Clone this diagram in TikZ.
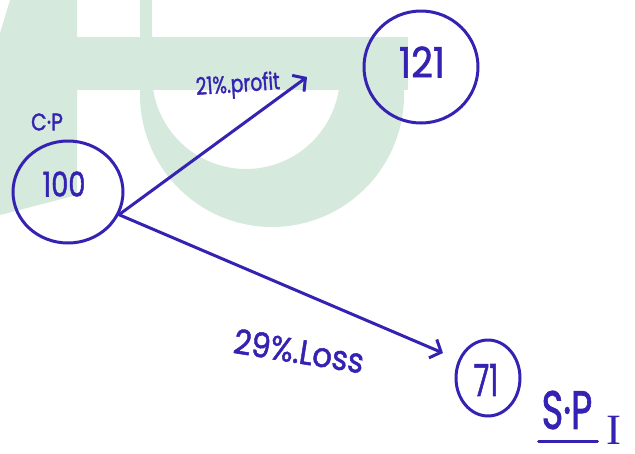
\documentclass[tikz,border=0pt]{standalone}
\usepackage{fontspec}
\setmainfont{Poppins}[FakeBold=1.6]
\newfontfamily\serifI{Liberation Serif}
\usetikzlibrary{shapes.geometric,arrows.meta}
\definecolor{ink}{RGB}{52,34,178}
\definecolor{mint}{RGB}{214,233,221}
\begin{document}
\begin{tikzpicture}[x=1pt,y=-1pt,
  ring/.style={draw=ink, line width=3pt, ellipse, inner sep=0pt},
  hand/.style={text=ink, inner sep=0pt, font=\bfseries},
  link/.style={draw=ink, line width=3pt, line cap=round},
  tip/.style={-{Straight Barb[length=9pt,width=20pt,line width=3pt]}}]
\useasboundingbox (0,0) rectangle (635,453);
% watermark
\fill[mint] (0,37) rectangle (408,90);
\fill[mint] (140,0) -- (140,95)
  -- plot[domain=180:360, samples=60] ({272+132*cos(\x)},{95-132*sin(\x)})
  -- (404,37) -- (340,37) -- (340,75)
  -- plot[domain=360:180, samples=60] ({246+94*cos(\x)},{75-94*sin(\x)})
  -- (152,0) -- cycle;
\fill[mint] (10,0) -- (77,0) -- (77,195) -- (0,215) -- (0,33) -- cycle;
% nodes
\node[ring, minimum width=110pt, minimum height=102pt] (cp) at (68,192) {};
\node[hand, font=\fontsize{34}{34}\selectfont] (cpt) at (64,184) {\scalebox{0.8}[1]{100}};
\node[hand, font=\fontsize{24}{24}\selectfont] (cpl) at (47,122) {\scalebox{0.85}[1]{C·P}};
\node[ring, minimum width=114pt, minimum height=112pt] (sp) at (421,67) {};
\node[hand, font=\fontsize{42}{42}\selectfont] (spt) at (422,62) {\scalebox{0.9}[1]{121}};
\node[ring, minimum width=64pt, minimum height=76pt] (lp) at (488,378) {};
\node[hand, font=\fontsize{44}{44}\selectfont] (lpt) at (486,380) {\scalebox{0.65}[1]{71}};
\node[hand, font=\fontsize{54}{54}\selectfont] (spl) at (567,410) {\scalebox{0.68}[1]{S·P}};
\node[hand, font=\fontsize{32}{32}\selectfont\serifI] (spi) at (614,430) {\scalebox{1.4}[1.35]{I}};
\draw[link] ([yshift=-12pt,xshift=-3pt]spl.south west) -- ([yshift=-12pt,xshift=5pt]spl.south east);
% connectors
\coordinate (o) at (cp.-24);
\coordinate (pt) at (307,77);
\coordinate (lt) at (443,353);
\draw[link,tip] (o) -- (pt);
\draw[link,tip] (o) -- (lt);
% labels
\node[hand, font=\fontsize{24}{24}\selectfont, rotate=4] (pl) at (238,86) {\scalebox{0.78}[1]{21\%.profit}};
\node[hand, font=\fontsize{34}{34}\selectfont, rotate=-9] (ll) at (299,351) {\scalebox{0.9}[1]{29\%.Loss}};
\end{tikzpicture}
\end{document}
